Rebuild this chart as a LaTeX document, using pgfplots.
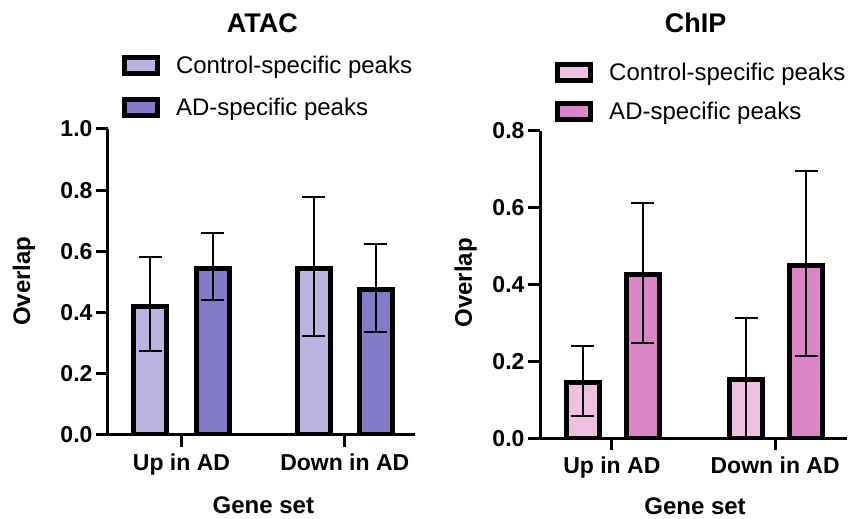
\documentclass[border=0pt]{standalone}
\usepackage{pgfplots}
\pgfplotsset{compat=1.18}
\usepackage{fontspec}
\setmainfont{Liberation Sans}
\definecolor{atacL}{HTML}{B9B4E1}
\definecolor{atacD}{HTML}{837BC7}
\definecolor{chipL}{HTML}{EFC0E2}
\definecolor{chipD}{HTML}{DA86C6}
\pgfplotsset{
  common/.style={
    scale only axis,
    axis lines=left,
    axis line style={-, line width=3pt, black},
    ymin=0,
    xtick={0,1},
    xticklabels={Up in AD, Down in AD},
    major tick length=12pt,
    tick style={line width=3pt, black},
    tick align=outside,
    /pgf/number format/assume math mode=true,
    ticklabel style={font=\fontsize{23}{27}\selectfont\bfseries},
    xticklabel style={yshift=-3pt},
    yticklabel style={/pgf/number format/.cd, fixed, fixed zerofill, precision=1},
    label style={font=\fontsize{24}{28}\selectfont\bfseries},
    title style={font=\fontsize{27}{31}\selectfont\bfseries, anchor=base},
    xlabel={Gene set},
    ylabel={Overlap},
    legend style={draw=none, fill=none, font=\fontsize{24}{28}\selectfont, anchor=north west, inner sep=0pt,
      row sep=20pt, /tikz/every odd column/.append style={column sep=14pt}},
    legend cell align=left,
    legend image code/.code={\draw[#1, line width=5pt] (0pt,-8pt) rectangle (33pt,8pt);},
    clip=true,
  },
  mybar/.style={ybar, bar width=33pt, bar shift=0pt, draw=black, line width=5pt,
    error bars/y dir=both, error bars/y explicit,
    error bars/error bar style={line width=2pt, black},
    error bars/error mark options={rotate=90, mark size=11.5pt, line width=2pt, black}},
}
\begin{document}
\begin{tikzpicture}
\path[use as bounding box] (0pt,0pt) rectangle (854pt,519pt);
% ATAC
\begin{axis}[common,
  at={(108pt,84pt)}, anchor=south west,
  width=307pt, height=306pt,
  xmin=-0.45, xmax=1.43, ymax=1.0,
  ytick={0,0.2,0.4,0.6,0.8,1.0},
  title={ATAC},
  title style={at={(axis description cs:0.503,1.297)}},
  ylabel style={at={(axis description cs:-0.254,0.503)}, anchor=base},
  xlabel style={at={(axis description cs:0.506,-0.255)}, anchor=base},
  legend style={at={(axis description cs:0.045,1.247)}},
]
\addplot[mybar, fill=atacL] table[x=x, y=y, y error plus=ep, y error minus=em] {
x y ep em
-0.19 0.420 0.163 0.147
0.81 0.545 0.234 0.221
};
\addlegendentry{Control-specific peaks}
\addplot[mybar, fill=atacD] table[x=x, y=y, y error plus=ep, y error minus=em] {
x y ep em
0.19 0.545 0.115 0.105
1.19 0.475 0.148 0.137
};
\addlegendentry{AD-specific peaks}
\end{axis}
% ChIP
\begin{axis}[common,
  at={(540pt,80.7pt)}, anchor=south west,
  width=307pt, height=307.6pt,
  xmin=-0.44, xmax=1.44, ymax=0.8,
  ytick={0,0.2,0.4,0.6,0.8},
  title={ChIP},
  title style={at={(axis description cs:0.507,1.301)}},
  ylabel style={at={(axis description cs:-0.222,0.505)}, anchor=base},
  xlabel style={at={(axis description cs:0.505,-0.249)}, anchor=base},
  legend style={at={(axis description cs:0.049,1.227)}, row sep=16.5pt},
]
\addplot[mybar, fill=chipL] table[x=x, y=y, y error plus=ep, y error minus=em] {
x y ep em
-0.178 0.145 0.095 0.086
0.822 0.152 0.162 0.250
};
\addlegendentry{Control-specific peaks}
\addplot[mybar, fill=chipD] table[x=x, y=y, y error plus=ep, y error minus=em] {
x y ep em
0.19 0.425 0.188 0.178
1.19 0.450 0.246 0.236
};
\addlegendentry{AD-specific peaks}
\end{axis}
\end{tikzpicture}
\end{document}
